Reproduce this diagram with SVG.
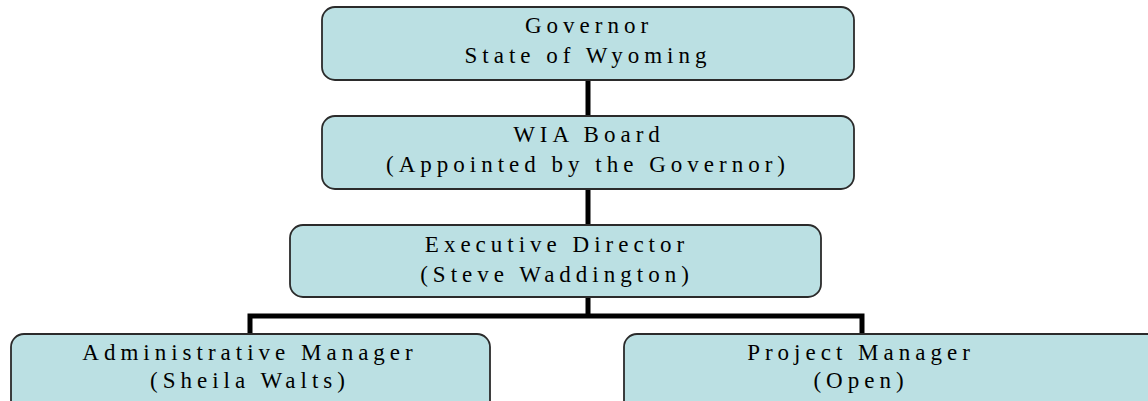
<svg xmlns="http://www.w3.org/2000/svg" width="1148" height="401" viewBox="0 0 1148 401">
<style>
.box{fill:#bbe0e3;stroke:#2b2b2b;stroke-width:1.8}
.t{font-family:"Liberation Serif","Times New Roman",serif;font-size:23px;letter-spacing:5px;text-anchor:middle;fill:#000}
.c{stroke:#000;stroke-width:5;fill:none}
</style>
<rect width="1148" height="401" fill="#fff"/>
<g id="connectors">
<line class="c" x1="588" y1="80" x2="588" y2="116"/>
<line class="c" x1="588" y1="189" x2="588" y2="225"/>
<path class="c" d="M588 297 V316 M250 334 V316 H862 V334"/>
</g>
<g id="governor">
<rect class="box" x="322" y="7" width="532" height="73" rx="13"/>
<text class="t" x="589" y="33">Governor</text>
<text class="t" x="588" y="63">State of Wyoming</text>
</g>
<g id="wia-board">
<rect class="box" x="322" y="116" width="532" height="73" rx="13"/>
<text class="t" x="589" y="142">WIA Board</text>
<text class="t" x="588" y="172">(Appointed by the Governor)</text>
</g>
<g id="executive-director">
<rect class="box" x="290" y="225" width="531" height="72" rx="13"/>
<text class="t" x="557" y="252">Executive Director</text>
<text class="t" x="557" y="282">(Steve Waddington)</text>
</g>
<g id="administrative-manager">
<rect class="box" x="11" y="334" width="479" height="90" rx="13"/>
<text class="t" x="250" y="360">Administrative Manager</text>
<text class="t" x="250" y="388">(Sheila Walts)</text>
</g>
<g id="project-manager">
<rect class="box" x="624" y="334" width="600" height="90" rx="13"/>
<text class="t" x="861" y="360">Project Manager</text>
<text class="t" x="861" y="388">(Open)</text>
</g>
</svg>
